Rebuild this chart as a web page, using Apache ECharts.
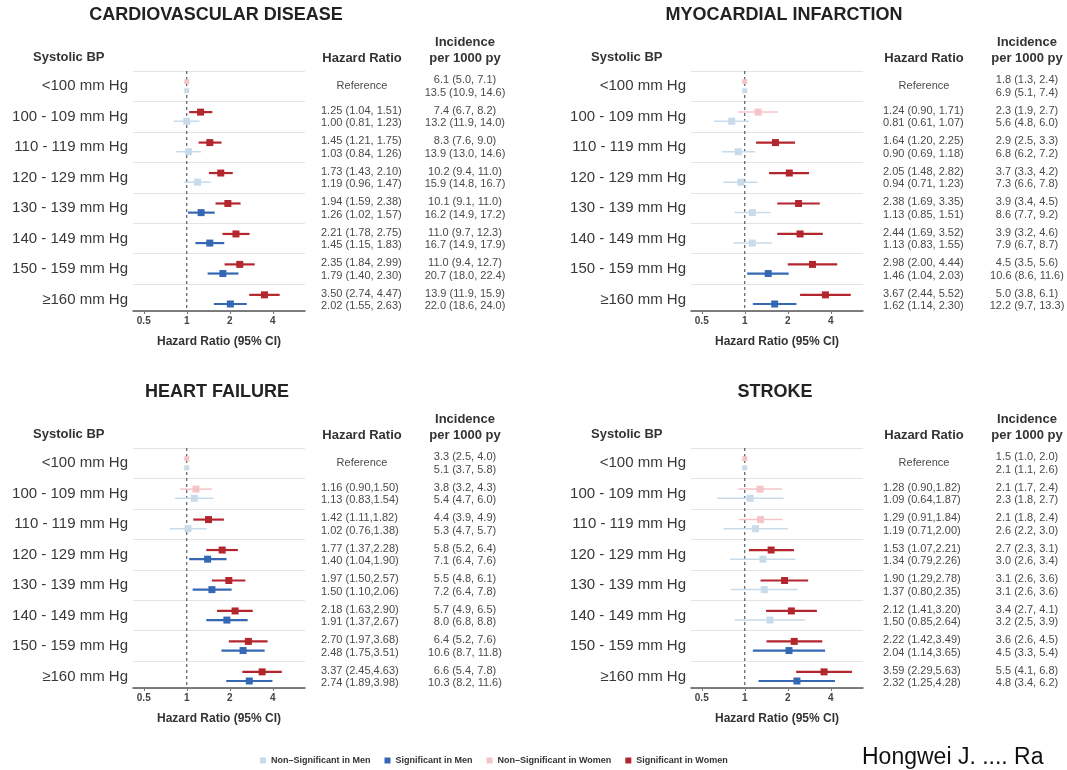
<!DOCTYPE html>
<html>
<head>
<meta charset="utf-8">
<script src="https://cdn.jsdelivr.net/npm/echarts@6/dist/echarts.min.js"></script>
<style>
html, body { margin: 0; padding: 0; background: #fff; }
#chart { width: 1067px; height: 770px; }
</style>
</head>
<body>
<div id="chart"></div>
<script>
var FONT = '"Liberation Sans", Arial, Helvetica, sans-serif';

var rows = ['<100 mm Hg', '100 - 109 mm Hg', '110 - 119 mm Hg', '120 - 129 mm Hg',
            '130 - 139 mm Hg', '140 - 149 mm Hg', '150 - 159 mm Hg', '\u2265160 mm Hg'];
var xTicks = [0.5, 1, 2, 4];

// [HR, lower 95% CI, upper 95% CI]; first row is the reference group
var cvdWomen = [[1, 1, 1], [1.25, 1.04, 1.51], [1.45, 1.21, 1.75], [1.73, 1.43, 2.10],
                [1.94, 1.59, 2.38], [2.21, 1.78, 2.75], [2.35, 1.84, 2.99], [3.50, 2.74, 4.47]];
var cvdMen = [[1, 1, 1], [1.00, 0.81, 1.23], [1.03, 0.84, 1.26], [1.19, 0.96, 1.47],
              [1.26, 1.02, 1.57], [1.45, 1.15, 1.83], [1.79, 1.40, 2.30], [2.02, 1.55, 2.63]];
var miWomen = [[1, 1, 1], [1.24, 0.90, 1.71], [1.64, 1.20, 2.25], [2.05, 1.48, 2.82],
               [2.38, 1.69, 3.35], [2.44, 1.69, 3.52], [2.98, 2.00, 4.44], [3.67, 2.44, 5.52]];
var miMen = [[1, 1, 1], [0.81, 0.61, 1.07], [0.90, 0.69, 1.18], [0.94, 0.71, 1.23],
             [1.13, 0.85, 1.51], [1.13, 0.83, 1.55], [1.46, 1.04, 2.03], [1.62, 1.14, 2.30]];
var hfWomen = [[1, 1, 1], [1.16, 0.90, 1.50], [1.42, 1.11, 1.82], [1.77, 1.37, 2.28],
               [1.97, 1.50, 2.57], [2.18, 1.63, 2.90], [2.70, 1.97, 3.68], [3.37, 2.45, 4.63]];
var hfMen = [[1, 1, 1], [1.13, 0.83, 1.54], [1.02, 0.76, 1.38], [1.40, 1.04, 1.90],
             [1.50, 1.10, 2.06], [1.91, 1.37, 2.67], [2.48, 1.75, 3.51], [2.74, 1.89, 3.98]];
var strokeWomen = [[1, 1, 1], [1.28, 0.90, 1.82], [1.29, 0.91, 1.84], [1.53, 1.07, 2.21],
                   [1.90, 1.29, 2.78], [2.12, 1.41, 3.20], [2.22, 1.42, 3.49], [3.59, 2.29, 5.63]];
var strokeMen = [[1, 1, 1], [1.09, 0.64, 1.87], [1.19, 0.71, 2.00], [1.34, 0.79, 2.26],
                 [1.37, 0.80, 2.35], [1.50, 0.85, 2.64], [2.04, 1.14, 3.65], [2.32, 1.25, 4.28]];

// incidence per 1000 person-years [rate, lower, upper]
var cvdIncWomen = [[6.1, 5.0, 7.1], [7.4, 6.7, 8.2], [8.3, 7.6, 9.0], [10.2, 9.4, 11.0],
                   [10.1, 9.1, 11.0], [11.0, 9.7, 12.3], [11.0, 9.4, 12.7], [13.9, 11.9, 15.9]];
var cvdIncMen = [[13.5, 10.9, 14.6], [13.2, 11.9, 14.0], [13.9, 13.0, 14.6], [15.9, 14.8, 16.7],
                 [16.2, 14.9, 17.2], [16.7, 14.9, 17.9], [20.7, 18.0, 22.4], [22.0, 18.6, 24.0]];
var miIncWomen = [[1.8, 1.3, 2.4], [2.3, 1.9, 2.7], [2.9, 2.5, 3.3], [3.7, 3.3, 4.2],
                  [3.9, 3.4, 4.5], [3.9, 3.2, 4.6], [4.5, 3.5, 5.6], [5.0, 3.8, 6.1]];
var miIncMen = [[6.9, 5.1, 7.4], [5.6, 4.8, 6.0], [6.8, 6.2, 7.2], [7.3, 6.6, 7.8],
                [8.6, 7.7, 9.2], [7.9, 6.7, 8.7], [10.6, 8.6, 11.6], [12.2, 9.7, 13.3]];
var hfIncWomen = [[3.3, 2.5, 4.0], [3.8, 3.2, 4.3], [4.4, 3.9, 4.9], [5.8, 5.2, 6.4],
                  [5.5, 4.8, 6.1], [5.7, 4.9, 6.5], [6.4, 5.2, 7.6], [6.6, 5.4, 7.8]];
var hfIncMen = [[5.1, 3.7, 5.8], [5.4, 4.7, 6.0], [5.3, 4.7, 5.7], [7.1, 6.4, 7.6],
                [7.2, 6.4, 7.8], [8.0, 6.8, 8.8], [10.6, 8.7, 11.8], [10.3, 8.2, 11.6]];
var strokeIncWomen = [[1.5, 1.0, 2.0], [2.1, 1.7, 2.4], [2.1, 1.8, 2.4], [2.7, 2.3, 3.1],
                      [3.1, 2.6, 3.6], [3.4, 2.7, 4.1], [3.6, 2.6, 4.5], [5.5, 4.1, 6.8]];
var strokeIncMen = [[2.1, 1.1, 2.6], [2.3, 1.8, 2.7], [2.6, 2.2, 3.0], [3.0, 2.6, 3.4],
                    [3.1, 2.6, 3.6], [3.2, 2.5, 3.9], [4.5, 3.3, 5.4], [4.8, 3.4, 6.2]];

var panels = [
    {title: 'CARDIOVASCULAR DISEASE', women: cvdWomen, men: cvdMen, incW: cvdIncWomen, incM: cvdIncMen, sep: ', ', dx: 0, tx: 0, dy: 0, titleX: 216},
    {title: 'MYOCARDIAL INFARCTION', women: miWomen, men: miMen, incW: miIncWomen, incM: miIncMen, sep: ', ', dx: 558, tx: 562, dy: 0, titleX: 784},
    {title: 'HEART FAILURE', women: hfWomen, men: hfMen, incW: hfIncWomen, incM: hfIncMen, sep: ',', dx: 0, tx: 0, dy: 377, titleX: 217},
    {title: 'STROKE', women: strokeWomen, men: strokeMen, incW: strokeIncWomen, incM: strokeIncMen, sep: ',', dx: 558, tx: 562, dy: 377, titleX: 775}
];

var cats = [
    {name: 'Non\u2013Significant in Men', sex: 'men', sig: false, color: '#c8dbeb', lw: 1.5},
    {name: 'Significant in Men', sex: 'men', sig: true, color: '#3568b4', lw: 2.2},
    {name: 'Non\u2013Significant in Women', sex: 'women', sig: false, color: '#f4c4c8', lw: 1.5},
    {name: 'Significant in Women', sex: 'women', sig: true, color: '#b3262e', lw: 2.2}
];

var ROWS_MAX = 7.88;   // last band is a bit shorter than the others
var OFFSET = {women: -0.15, men: 0.15};

function fmt(v, d, sep) {
    return v[0].toFixed(d) + ' (' + v[1].toFixed(d) + sep + v[2].toFixed(d) + ')';
}

function txt(s, x, y, align, font, color) {
    return {type: 'text', x: x, y: y, style: {text: s, textAlign: align, textVerticalAlign: 'middle', font: font, fill: color}};
}

function ciRenderer(lw) {
    return function (params, api) {
        var y = api.value(3);
        var p = api.coord([api.value(0), y]);
        var lo = api.coord([api.value(1), y]);
        var hi = api.coord([api.value(2), y]);
        var s = api.value(4);
        var color = api.visual('color');
        return {type: 'group', children: [
            {type: 'line', shape: {x1: lo[0], y1: lo[1], x2: hi[0], y2: hi[1]}, style: {stroke: color, lineWidth: lw}},
            {type: 'rect', shape: {x: p[0] - s / 2, y: p[1] - s / 2, width: s, height: s}, style: {fill: color}}
        ]};
    };
}

function textRenderer(p) {
    return function (params, api) {
        var i = api.value(1);
        var yAt = function (o) { return api.coord([1, i + 0.5 + o])[1]; };
        var valFont = '11px ' + FONT, valColor = '#4a4a4a';
        var kids = [txt(rows[i], p.dx + 128, yAt(0), 'right', '15px ' + FONT, '#383838')];
        if (i === 0) {
            kids.push(txt('Reference', p.tx + 362, yAt(-0.02), 'center', valFont, valColor));
            var top = api.coord([1, 0]), bot = api.coord([1, ROWS_MAX]);
            kids.push({type: 'line', shape: {x1: top[0], y1: top[1], x2: bot[0], y2: bot[1]},
                       style: {stroke: '#3c3c3c', lineWidth: 1, lineDash: [3, 3]}});
        } else {
            kids.push(txt(fmt(p.women[i], 2, p.sep), p.tx + 321, yAt(-0.19), 'left', valFont, valColor));
            kids.push(txt(fmt(p.men[i], 2, p.sep), p.tx + 321, yAt(0.22), 'left', valFont, valColor));
        }
        kids.push(txt(fmt(p.incW[i], 1, ', '), p.tx + 465, yAt(-0.19), 'center', valFont, valColor));
        kids.push(txt(fmt(p.incM[i], 1, ', '), p.tx + 465, yAt(0.22), 'center', valFont, valColor));
        return {type: 'group', children: kids};
    };
}

var grids = [], xAxes = [], yAxes = [], series = [], graphics = [];

panels.forEach(function (p, k) {
    grids.push({left: 133 + p.dx, top: 71 + p.dy, width: 172, height: 240});
    xAxes.push({
        type: 'log', logBase: 2, gridIndex: k, position: 'bottom',
        min: Math.pow(2, -1.25), max: Math.pow(2, 2.75),
        axisLine: {onZero: false, lineStyle: {color: '#555', width: 1.5}},
        axisTick: {show: true, length: 3, lineStyle: {color: '#777'}, customValues: xTicks},
        splitLine: {show: false},
        axisLabel: {
            color: '#444', fontWeight: 'bold', fontSize: 10, fontFamily: FONT, margin: 5,
            customValues: xTicks,
            formatter: function (v) { return String(+v.toFixed(2)); }
        },
        name: 'Hazard Ratio (95% CI)', nameLocation: 'middle', nameGap: 25,
        nameTextStyle: {color: '#333', fontWeight: 'bold', fontSize: 12, fontFamily: FONT}
    });
    yAxes.push({
        type: 'value', gridIndex: k, inverse: true, min: 0, max: ROWS_MAX, interval: 1,
        axisLine: {show: false}, axisTick: {show: false}, axisLabel: {show: false},
        splitLine: {show: true, lineStyle: {color: '#e4e4e4', width: 1}}
    });

    series.push({
        type: 'custom', xAxisIndex: k, yAxisIndex: k, z: 1, silent: true,
        data: rows.map(function (r, i) { return [1, i]; }),
        encode: {x: 0, y: 1},
        renderItem: textRenderer(p)
    });

    cats.forEach(function (c) {
        var data = [];
        p[c.sex].forEach(function (v, i) {
            var sig = v[1] > 1 || v[2] < 1;
            if (sig === c.sig) data.push([v[0], v[1], v[2], i + 0.5 + OFFSET[c.sex], i === 0 ? 5 : 7]);
        });
        series.push({
            type: 'custom', name: c.name, xAxisIndex: k, yAxisIndex: k, z: 3, silent: true,
            itemStyle: {color: c.color},
            data: data, encode: {x: [0, 1, 2], y: 3},
            renderItem: ciRenderer(c.lw)
        });
    });

    var head = 'bold 13px ' + FONT;
    graphics.push(txt(p.title, p.titleX, 15 + p.dy, 'center', 'bold 18px ' + FONT, '#222'));
    graphics.push(txt('Systolic BP', 33 + p.dx, 57 + p.dy, 'left', head, '#333'));
    graphics.push(txt('Hazard Ratio', 362 + p.tx, 58 + p.dy, 'center', head, '#333'));
    graphics.push(txt('Incidence', 465 + p.tx, 42 + p.dy, 'center', head, '#333'));
    graphics.push(txt('per 1000 py', 465 + p.tx, 58 + p.dy, 'center', head, '#333'));
});

graphics.push(txt('Hongwei J. .... Ra', 862, 758, 'left', '23px ' + FONT, '#111'));

var chart = echarts.init(document.getElementById('chart'));
chart.setOption({
    backgroundColor: '#fff',
    animation: false,
    grid: grids,
    xAxis: xAxes,
    yAxis: yAxes,
    legend: {
        data: cats.map(function (c) { return c.name; }),
        left: 255, top: 751, icon: 'rect', itemWidth: 6, itemHeight: 6, itemGap: 14,
        selectedMode: false,
        textStyle: {fontSize: 9, fontWeight: 'bold', color: '#333', fontFamily: FONT}
    },
    graphic: graphics,
    series: series
});
</script>
</body>
</html>
